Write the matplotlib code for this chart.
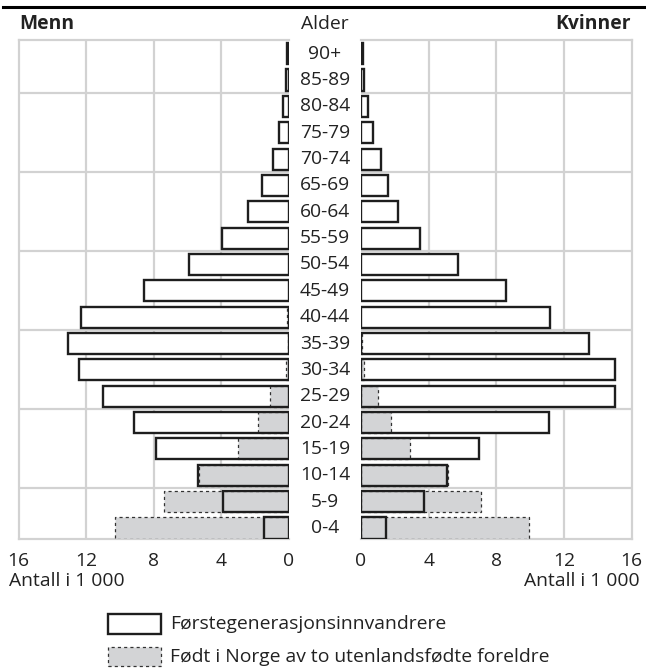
import matplotlib
matplotlib.use("Agg")
import matplotlib.pyplot as plt
from matplotlib.patches import Rectangle
import numpy as np

plt.rcParams['font.family'] = ['Open Sans', 'DejaVu Sans']

ages = ["0-4", "5-9", "10-14", "15-19", "20-24", "25-29", "30-34", "35-39",
        "40-44", "45-49", "50-54", "55-59", "60-64", "65-69", "70-74",
        "75-79", "80-84", "85-89", "90+"]

men_first = [1.5, 3.9, 5.36, 7.89, 9.19, 11.03, 12.45, 13.08, 12.3, 8.56,
             5.94, 3.96, 2.43, 1.6, 0.95, 0.6, 0.35, 0.15, 0.1]
men_born = [10.28, 7.42, 5.3, 3.02, 1.83, 1.1, 0.2, 0.05, 0.1, 0.0,
            0.0, 0.0, 0.0, 0.0, 0.0, 0.0, 0.0, 0.0, 0.0]
women_first = [1.46, 3.75, 5.1, 6.96, 11.13, 15.0, 15.0, 13.46, 11.15, 8.58,
               5.71, 3.49, 2.19, 1.58, 1.16, 0.73, 0.43, 0.2, 0.1]
women_born = [9.96, 7.08, 5.16, 2.89, 1.76, 0.99, 0.2, 0.05, 0.0, 0.0,
              0.0, 0.0, 0.0, 0.0, 0.0, 0.0, 0.0, 0.0, 0.0]

xticks = [0, 4, 8, 12, 16]
legend_labels = ["Førstegenerasjonsinnvandrere",
                 "Født i Norge av to utenlandsfødte foreldre"]

W, H = 646, 668
fig = plt.figure(figsize=(W / 100, H / 100), dpi=100)

GRID = '#d2d2d2'
GRAY = '#d3d4d6'
EDGE = '#1e1e1e'
TXT = '#222222'
FS = 13.9

def px_axes(x0, y0, x1, y1):
    return fig.add_axes([x0 / W, 1 - y1 / H, (x1 - x0) / W, (y1 - y0) / H])

axL = px_axes(18.5, 40.5, 289, 538.5)
axR = px_axes(361, 40.5, 631.5, 538.5)

y = np.arange(len(ages))
bh = 0.8

for ax, first, born in ((axL, men_first, men_born), (axR, women_first, women_born)):
    ax.set_ylim(-0.4, 18.5)
    ax.set_xticks(xticks)
    ax.set_yticks([])
    for gx in [4, 8, 12]:
        ax.axvline(gx, color=GRID, lw=1.6, zorder=0)
    for gy in [1.5, 4.5, 7.5, 10.5, 13.5, 16.5]:
        ax.axhline(gy, color=GRID, lw=1.6, zorder=0)
    for s in ax.spines.values():
        s.set_color(GRID)
        s.set_linewidth(1.6)
    ax.tick_params(axis='x', length=0, pad=10, labelsize=FS, colors=TXT)
    ax.barh(y, first, height=bh, color='white', edgecolor='none', zorder=2)
    ax.barh(y, [b if b > 0 else np.nan for b in born], height=bh, color=GRAY,
            edgecolor='#333333', linewidth=0.9, linestyle=(0, (2.5, 2.5)), zorder=3)
    ax.barh(y, first, height=bh, fill=False, edgecolor=EDGE, linewidth=1.7, zorder=4)
    ax.set_facecolor('white')

axL.set_xlim(16, 0)
axR.set_xlim(0, 16)
axR.spines['left'].set_visible(False)
axL.spines['right'].set_visible(False)

# age labels
for i, a in enumerate(ages):
    yy = axL.transData.transform((0, y[i]))[1]
    fig.text(325 / W, yy / H, a, ha='center', va='center', fontsize=FS, color=TXT)

# headers
fig.add_artist(plt.Line2D([3 / W, 1], [1 - 7 / H, 1 - 7 / H], color='black', lw=2.2))
fig.text(19 / W, 1 - 24 / H, "Menn", ha='left', va='center', fontsize=FS, fontweight='bold', color=TXT)
fig.text(325 / W, 1 - 24 / H, "Alder", ha='center', va='center', fontsize=FS, color=TXT)
fig.text(631 / W, 1 - 24 / H, "Kvinner", ha='right', va='center', fontsize=FS, fontweight='bold', color=TXT)

fig.text(9 / W, 1 - 581 / H, "Antall i 1 000", ha='left', va='center', fontsize=FS, color=TXT)
fig.text(640 / W, 1 - 581 / H, "Antall i 1 000", ha='right', va='center', fontsize=FS, color=TXT)

# legend
fig.add_artist(Rectangle((108 / W, 1 - 634 / H), 53 / W, 20 / H, transform=fig.transFigure,
                         facecolor='white', edgecolor=EDGE, linewidth=1.7))
fig.add_artist(Rectangle((108 / W, 1 - 666 / H), 53 / W, 19 / H, transform=fig.transFigure,
                         facecolor=GRAY, edgecolor='#333333', linewidth=0.9, linestyle=(0, (2.5, 2.5))))
fig.text(170 / W, 1 - 624 / H, legend_labels[0], ha='left', va='center', fontsize=FS, color=TXT)
fig.text(170 / W, 1 - 657 / H, legend_labels[1], ha='left', va='center', fontsize=FS, color=TXT)

fig.savefig("out.png", dpi=100, facecolor='white')
